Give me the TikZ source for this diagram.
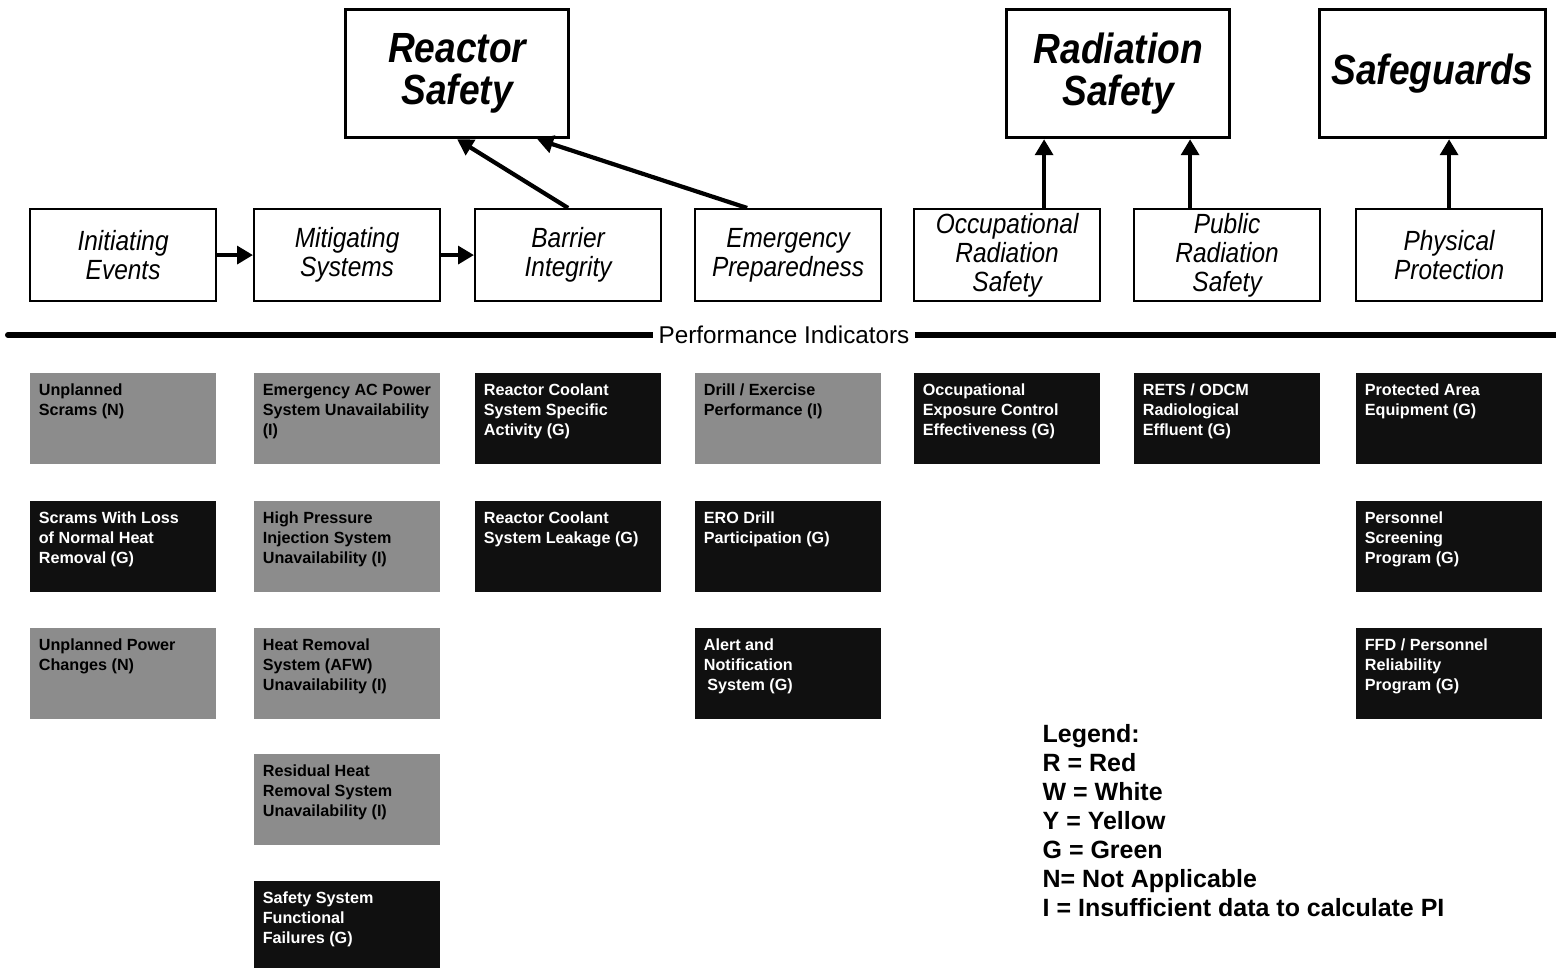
\documentclass[tikz,border=0pt]{standalone}
\usepackage{fontspec}
\setmainfont{Liberation Sans}
\newfontfamily\narrowsans[FakeStretch=0.88]{Liberation Sans}
\usetikzlibrary{arrows.meta,calc}

\definecolor{pigreen}{HTML}{101010}
\definecolor{pigrey}{HTML}{8C8C8C}

% text block of one indicator box
\newcommand{\pitext}[1]{\parbox[c][0.91cm][t]{1.86cm}{\raggedright\leftskip=2.6pt\rule{0pt}{6.4pt}#1}}

\tikzset{
  area/.style={draw, line width=0.9pt, minimum width=2.23cm, minimum height=1.28cm,
    anchor=north west, align=center, font=\narrowsans\bfseries\itshape\fontsize{12}{12}\selectfont},
  cornerstone/.style={draw, line width=0.6pt, minimum width=1.86cm, minimum height=0.92cm,
    inner ysep=0pt, anchor=north west, align=center,
    font=\narrowsans\itshape\fontsize{7.9}{8.25}\selectfont},
  piG/.style={fill=pigreen, text=white, inner sep=0pt, anchor=north west,
    font=\bfseries\fontsize{4.6}{5.7}\selectfont},
  piN/.style={piG, fill=pigrey, text=black},
  flow/.style={line width=1.2pt, -{Triangle[length=4.5pt,width=5pt]}},
}

\begin{document}
\begin{tikzpicture}[x=0.01cm, y=-0.01cm]
  \useasboundingbox (0,0) rectangle (1556,968);

  % strategic areas
  \node[area] (reactor) at (344,8) {Reactor\\Safety};
  \node[area] (radsafety) at (1005,8) {Radiation\\Safety};
  \node[area] (safeguards) at (1318,8) {Safeguards};

  % cornerstones
  \node[cornerstone] (initiating) at (29,208) {Initiating\\Events};
  \node[cornerstone] (mitigating) at (253,208) {Mitigating\\Systems};
  \node[cornerstone] (barrier) at (474,208) {Barrier\\Integrity};
  \node[cornerstone] (emergency) at (694,208) {Emergency\\Preparedness};
  \node[cornerstone] (occup) at (913,208) {Occupational\\Radiation\\Safety};
  \node[cornerstone] (public) at (1133,208) {Public\\Radiation\\Safety};
  \node[cornerstone] (physical) at (1355,208) {Physical\\Protection};

  \draw[flow] (initiating.east) -- (mitigating.west);
  \draw[flow] (mitigating.east) -- (barrier.west);
  \draw[flow] (barrier.north) -- (reactor.south);
  \coordinate (epTail) at ($(emergency.north)+(-41,0)$);
  \coordinate (epHead) at ($(reactor.south east)+(-33,0)$);
  \draw[flow] (epTail) -- (epHead);
  \coordinate (occTail) at ($(occup.north)+(37,0)$);
  \draw[flow] (occTail) -- (occTail |- radsafety.south);
  \coordinate (pubTail) at ($(public.north)+(-37,0)$);
  \draw[flow] (pubTail) -- (pubTail |- radsafety.south);
  \draw[flow] (physical.north) -- (physical.north |- safeguards.south);

  % divider
  \coordinate (ruleL) at (8,335);
  \coordinate (ruleR) at (1556,335);
  \draw[line width=1.7pt, line cap=round] (ruleL) -- (ruleR);
  \node[fill=white, inner xsep=1.5pt, inner ysep=1pt, font=\fontsize{6.9}{8}\selectfont]
    (pilabel) at (784,335) {Performance Indicators};

  % performance indicators
  \node[piN] (piScrams) at (29,372) {\pitext{Unplanned\\Scrams (N)}};
  \node[piG] (piScramsLoss) at (29,500) {\pitext{Scrams With Loss\\of Normal Heat\\Removal (G)}};
  \node[piN] (piPowerChg) at (29,627) {\pitext{Unplanned Power\\Changes (N)}};

  \node[piN] (piEmerAC) at (253,372) {\pitext{Emergency AC Power\\System Unavailability\\(I)}};
  \node[piN] (piHPI) at (253,500) {\pitext{High Pressure\\Injection System\\Unavailability (I)}};
  \node[piN] (piHeatRem) at (253,627) {\pitext{Heat Removal\\System (AFW)\\Unavailability (I)}};
  \node[piN] (piRHR) at (253,753) {\pitext{Residual Heat\\Removal System\\Unavailability (I)}};
  \node[piG] (piSSFF) at (253,880) {\pitext{Safety System\\Functional\\Failures (G)}};

  \node[piG] (piRCSAct) at (474,372) {\pitext{Reactor Coolant\\System Specific\\Activity (G)}};
  \node[piG] (piRCSLeak) at (474,500) {\pitext{Reactor Coolant\\System Leakage (G)}};

  \node[piN] (piDrill) at (694,372) {\pitext{Drill / Exercise\\Performance (I)}};
  \node[piG] (piERO) at (694,500) {\pitext{ERO Drill\\Participation (G)}};
  \node[piG] (piANS) at (694,627) {\pitext{Alert and\\Notification\\\hspace{1pt}System (G)}};

  \node[piG] (piOccExp) at (913,372) {\pitext{Occupational\\Exposure Control\\Effectiveness (G)}};
  \node[piG] (piRETS) at (1133,372) {\pitext{RETS / ODCM\\Radiological\\Effluent (G)}};

  \node[piG] (piProtArea) at (1355,372) {\pitext{Protected Area\\Equipment (G)}};
  \node[piG] (piScreening) at (1355,500) {\pitext{Personnel\\Screening\\Program (G)}};
  \node[piG] (piFFD) at (1355,627) {\pitext{FFD / Personnel\\Reliability\\Program (G)}};

  % legend
  \node[anchor=north west, align=left, inner sep=0pt, font=\bfseries\fontsize{7.1}{8.25}\selectfont]
    (legend) at (1042,724) {Legend:\\R = Red\\W = White\\Y = Yellow\\G = Green\\N= Not Applicable\\I = Insufficient data to calculate PI};
\end{tikzpicture}
\end{document}
